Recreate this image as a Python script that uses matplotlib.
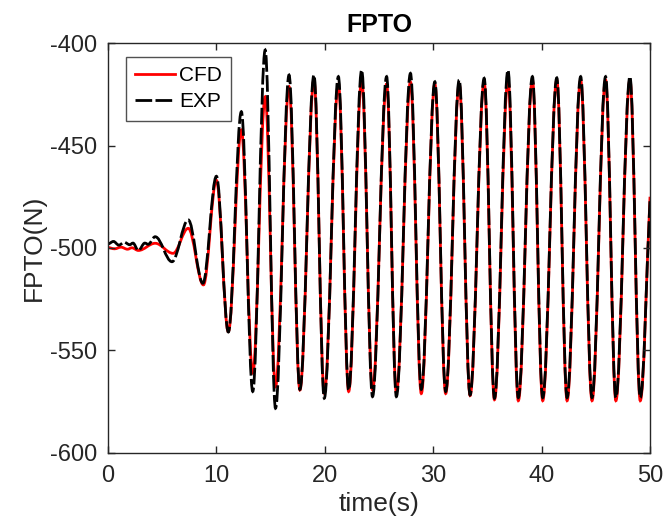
import numpy as np
import matplotlib
matplotlib.use("Agg")
import matplotlib.pyplot as plt
from matplotlib.path import Path
from matplotlib.patches import PathPatch
from matplotlib.lines import Line2D

plt.rcParams["font.family"] = ["Liberation Sans", "DejaVu Sans"]
plt.rcParams["axes.unicode_minus"] = False

# CFD: simulated force, turning points
t_cfd = [0, 0.6, 1.2, 1.8, 2.2, 2.8, 4.35, 6.0, 7.4, 8.8, 10.0, 11.1, 12.3, 13.35,
         14.5, 15.45, 16.7, 17.7, 19.0, 19.95, 21.25, 22.2, 23.4, 24.4, 25.7, 26.6,
         27.9, 28.9, 30.15, 31.15, 32.4, 33.4, 34.7, 35.65, 36.9, 37.85, 39.15, 40.1,
         41.4, 42.35, 43.6, 44.65, 45.9, 46.85, 48.15, 49.1, 50.0]
f_cfd = [-499.8, -500.4, -499.6, -500.6, -499.9, -501.2, -497.7, -502.6, -490.4,
         -518, -467, -540.8, -442.4, -561, -426.2, -567.7, -421.3, -569.3, -418,
         -570.9, -420, -570, -418, -569.3, -420, -570.5, -419, -571, -420, -571,
         -420, -572, -419, -574, -418, -574.5, -418, -574.5, -418, -574.5, -418,
         -574.5, -418, -574.5, -418, -574.5, -475]

# EXP: measured force, turning points
t_exp = [0, 0.5, 1.0, 1.5, 2.0, 2.3, 2.8, 3.4, 3.7, 4.35, 5.9, 7.4, 8.75, 10.0,
         11.1, 12.3, 13.35, 14.5, 15.45, 16.7, 17.7, 19.0, 19.95, 21.25, 22.2, 23.4,
         24.4, 25.7, 26.6, 27.9, 28.9, 30.15, 31.15, 32.4, 33.4, 34.7, 35.65, 36.9,
         37.85, 39.15, 40.1, 41.4, 42.35, 43.6, 44.65, 45.9, 46.85, 48.15, 49.1, 50.0]
f_exp = [-498, -496.8, -498.6, -497.2, -498.4, -497.6, -501.2, -497.6, -498.2,
         -494.5, -506.7, -486.3, -517.2, -465, -541, -433.5, -570, -403.4, -578.2,
         -415.6, -569, -415.6, -573.3, -416.4, -569.3, -413.2, -572.5, -416.4,
         -572.5, -414.8, -569, -418.9, -570, -418, -571.7, -417.2, -573.3, -413.2,
         -573, -416.4, -573, -417, -573, -416.4, -573, -416.4, -573, -416.4, -573,
         -476]


def smooth_path(t, f, a=0.364):
    # cubic segments with flat tangents at the turning points
    verts = [(t[0], f[0])]
    codes = [Path.MOVETO]
    for i in range(1, len(t)):
        dt = t[i] - t[i - 1]
        c2 = (t[i] - a * dt, f[i])
        if i == len(t) - 1:
            c2 = (t[i] - a * dt, f[i] - a * (f[i] - f[i - 1]))
        verts += [(t[i - 1] + a * dt, f[i - 1]), c2, (t[i], f[i])]
        codes += [Path.CURVE4] * 3
    return Path(verts, codes)


fig = plt.figure(figsize=(6.66, 5.29), dpi=100)
ax = fig.add_axes([0.1622, 0.1437, 0.8138, 0.775])

ax.add_patch(PathPatch(smooth_path(t_cfd, f_cfd), fill=False, edgecolor="red", lw=2))
ax.add_patch(PathPatch(smooth_path(t_exp, f_exp), fill=False, edgecolor="black", lw=2,
                       linestyle=(0, (6, 1.2))))

ax.set_xlim(0, 50)
ax.set_ylim(-600, -400)
ax.set_xticks(np.arange(0, 51, 10))
ax.set_yticks(np.arange(-600, -399, 50))
ax.tick_params(direction="in", length=5, width=1, labelsize=17, colors="#262626",
               top=True, right=True)
ax.tick_params(axis="x", pad=9)
ax.tick_params(axis="y", pad=8)
for s in ax.spines.values():
    s.set_color("#262626")
    s.set_linewidth(1)

ax.set_title("FPTO", fontsize=18, fontweight="bold", pad=8)
ax.set_xlabel("time(s)", fontsize=19, labelpad=3, color="#262626")
ax.set_ylabel("FPTO(N)", fontsize=19, labelpad=3, color="#262626")

handles = [Line2D([], [], color="red", lw=2),
           Line2D([], [], color="black", lw=2, dashes=(6, 1.2))]
leg = ax.legend(handles, ["CFD", "EXP"], loc="upper left", fontsize=15,
                handlelength=1.9, handletextpad=0.2, labelspacing=0.35,
                frameon=True, fancybox=False, edgecolor="#262626", borderpad=0.45,
                borderaxespad=0, bbox_to_anchor=(0.033, 0.967))
leg.get_frame().set_linewidth(1)

fig.savefig("out.png", dpi=100)
